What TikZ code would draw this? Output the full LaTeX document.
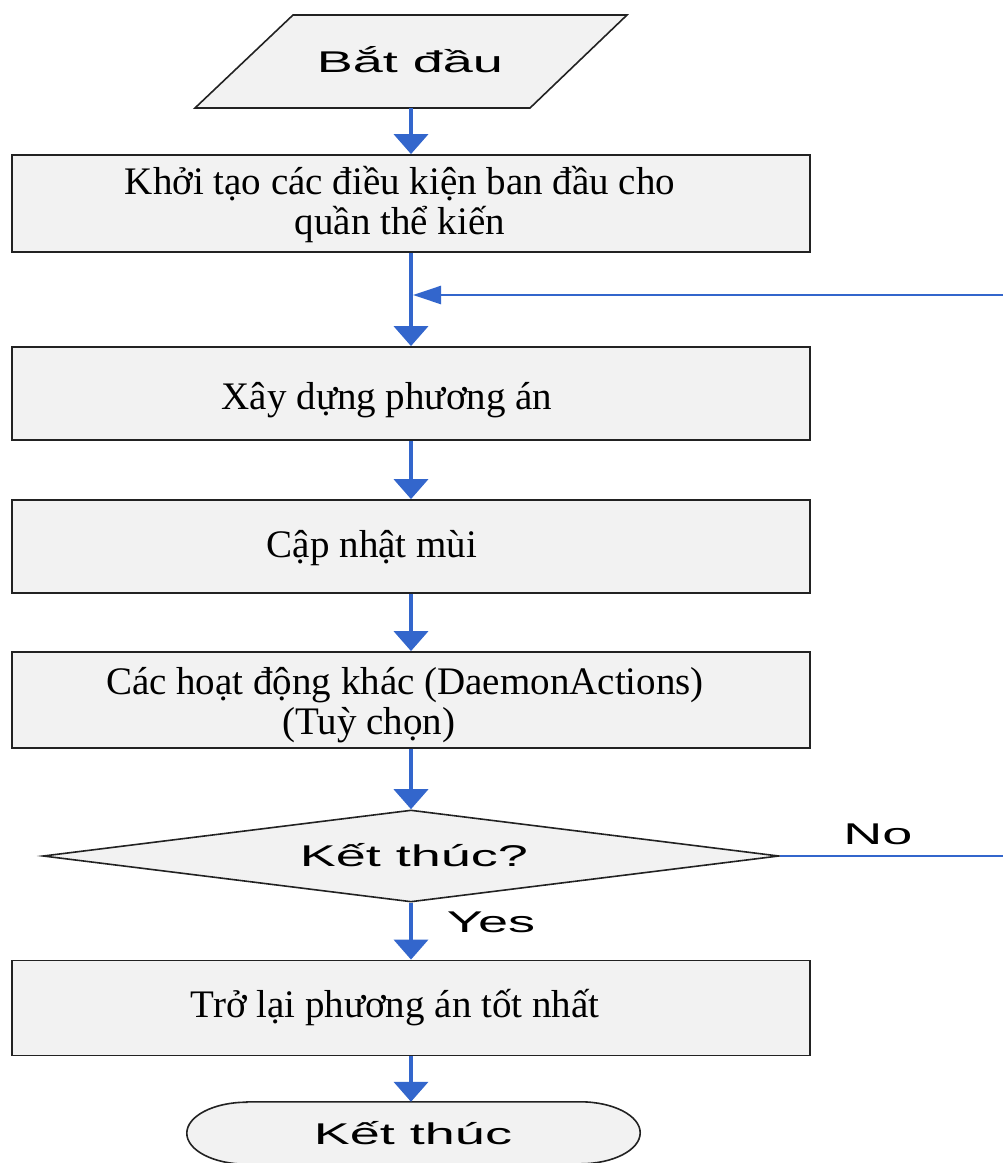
\documentclass[tikz,border=0pt]{standalone}
\usepackage{fontspec}
\setmainfont{Liberation Serif}
\newfontfamily\widesans[FakeStretch=1.8]{Liberation Sans}
\usetikzlibrary{arrows.meta,shapes.geometric}
\definecolor{flowblue}{HTML}{3366CC}
\definecolor{boxfill}{HTML}{F2F2F2}
\definecolor{boxline}{HTML}{222222}
\tikzset{
  procbox/.style={rectangle, draw=boxline, fill=boxfill, line width=1.8pt, minimum width=798pt, inner sep=0pt},
  outline/.style={draw=boxline, fill=boxfill, line width=1.6pt},
  serif/.style={font=\fontsize{39}{40}\selectfont, align=center, inner sep=0pt},
  sanslabel/.style={font=\widesans\fontsize{30}{36}\selectfont, inner sep=0pt},
  flow/.style={draw=flowblue, line width=4pt, -{Triangle[width=34pt,length=20pt]}},
  loopline/.style={draw=flowblue, line width=2.5pt},
  looparrow/.style={draw=flowblue, line width=2.5pt, -{Triangle[width=18pt,length=28pt]}},
}
\begin{document}
\begin{tikzpicture}[x=1pt,y=-1pt]
\useasboundingbox (0,0) rectangle (1003,1163);
% start parallelogram
\filldraw[outline] (195,108) -- (293,15) -- (627,15) -- (530,108) -- cycle;
\node[rectangle, minimum width=335pt, minimum height=93pt, inner sep=0pt] (start) at (411,61.5) {};
\node[sanslabel] (starttext) at (410,60) {Bắt đầu};
% process boxes
\node[procbox, minimum height=97pt] (b1) at (411,203.5) {};
\node[serif] (t1) at (400,205) {Khởi tạo các điều kiện ban đầu cho\\quần thể kiến};
\node[procbox, minimum height=93pt] (b2) at (411,393.5) {};
\node[serif] (t2) at (387,400) {Xây dựng phương án};
\node[procbox, minimum height=93pt] (b3) at (411,546.5) {};
\node[serif] (t3) at (372,548) {Cập nhật mùi};
\node[procbox, minimum height=96pt] (b4) at (411,700) {};
\node[serif] (t4a) at (405,685) {Các hoạt động khác (DaemonActions)};
\node[serif] (t4b) at (369,725) {(Tuỳ chọn)};
% decision
\node[diamond, outline, minimum width=736pt, minimum height=92pt, inner sep=0pt, aspect=8] (dec) at (411,856) {};
\node[sanslabel] (dectext) at (414,855) {Kết thúc?};
\node[procbox, minimum height=95pt] (b5) at (411,1008) {};
\node[serif] (t5) at (395,1008) {Trở lại phương án tốt nhất};
% terminator
\node[rectangle, minimum width=453pt, minimum height=62pt, inner sep=0pt] (fin) at (413.5,1133) {};
\filldraw[outline] ([xshift=60pt]fin.north west) -- ([xshift=-60pt]fin.north east)
  arc[start angle=90, end angle=-90, x radius=60pt, y radius=31pt]
  -- ([xshift=60pt]fin.south west)
  arc[start angle=270, end angle=90, x radius=60pt, y radius=31pt] -- cycle;
\node[sanslabel] (fintext) at (413,1133) {Kết thúc};
% connectors
\draw[flow] (start.south) -- (b1.north);
\draw[flow] (b1.south) -- (b2.north);
\draw[flow] (b2.south) -- (b3.north);
\draw[flow] (b3.south) -- (b4.north);
\draw[flow] (b4.south) -- (dec.north);
\draw[flow] (dec.south) -- (b5.north);
\draw[flow] (b5.south) -- (b5.south |- fin.north);
\coordinate (r1) at (1003,295);
\coordinate (r2) at (1003,856);
\draw[loopline] (dec.east) -- (r2);
\draw[looparrow] (r1) -- ([xshift=2pt]r1 -| b1.south);
\node[sanslabel] (no) at (878,834) {No};
\node[sanslabel] (yes) at (491,922) {Yes};
\end{tikzpicture}
\end{document}
